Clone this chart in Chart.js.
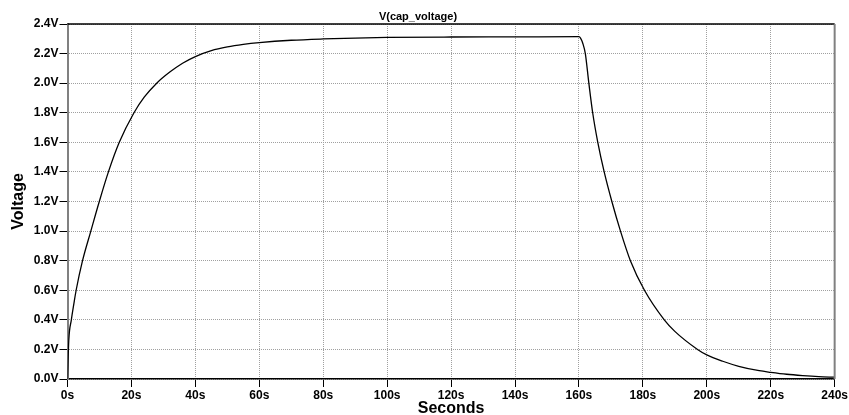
<!DOCTYPE html>
<html>
<head>
<meta charset="utf-8">
<script src="https://cdn.jsdelivr.net/npm/chart.js@4"></script>
<style>
  body { margin: 0; background: #fff; }
  canvas { display: block; }
</style>
</head>
<body>
<canvas id="capChart" width="849" height="415"></canvas>
<script>
// time in seconds
const seconds = [0, 0.4, 1.2, 2, 2.7, 4.7, 7.3, 9.95, 12.8, 16.2, 20.8, 24, 27.9, 32, 36, 40, 45, 50, 55, 60, 70, 80, 90, 100, 120, 140, 160,
    160.5, 161.2, 162, 163.1, 164.3, 165.9, 167.9, 170.3, 173, 176.1, 180.5, 186.7, 190, 197.1, 200, 205, 210, 216.4, 220, 225, 230, 235, 240];
// capacitor voltage in volts
const voltage = [0, 0.26, 0.40, 0.51, 0.60, 0.80, 1.00, 1.20, 1.40, 1.60, 1.80, 1.905, 2.00, 2.075, 2.135, 2.18, 2.22, 2.245, 2.262, 2.274, 2.29, 2.299, 2.305, 2.309, 2.312, 2.313, 2.314,
    2.305, 2.27, 2.2, 2.0, 1.8, 1.6, 1.4, 1.2, 1.0, 0.8, 0.6, 0.4, 0.322, 0.2, 0.163, 0.12, 0.086, 0.056, 0.045, 0.032, 0.023, 0.016, 0.012];

const xTickLabels = ['0s', '20s', '40s', '60s', '80s', '100s', '120s', '140s', '160s', '180s', '200s', '220s', '240s'];
const yTickLabels = ['0.0V', '0.2V', '0.4V', '0.6V', '0.8V', '1.0V', '1.2V', '1.4V', '1.6V', '1.8V', '2.0V', '2.2V', '2.4V'];

const points = seconds.map((t, i) => ({ x: t, y: voltage[i] }));
const fontFamily = '"Liberation Sans", Arial, Helvetica, sans-serif';

// draws the top and right edges of the plot frame
const framePlugin = {
    id: 'frame',
    afterDraw(chart) {
        const a = chart.chartArea;
        const ctx = chart.ctx;
        ctx.save();
        ctx.strokeStyle = '#000';
        ctx.lineWidth = 1.5;
        ctx.beginPath();
        ctx.moveTo(a.left, a.top);
        ctx.lineTo(a.right, a.top);
        ctx.stroke();
        ctx.strokeStyle = '#808080';
        ctx.lineWidth = 2;
        ctx.beginPath();
        ctx.moveTo(a.right, a.top);
        ctx.lineTo(a.right, a.bottom);
        ctx.stroke();
        ctx.restore();
    }
};

new Chart(document.getElementById('capChart'), {
    type: 'line',
    data: {
        datasets: [{
            label: 'V(cap_voltage)',
            data: points,
            borderColor: '#000',
            borderWidth: 1.3,
            pointRadius: 0,
            cubicInterpolationMode: 'monotone',
            fill: false
        }]
    },
    options: {
        responsive: false,
        animation: false,
        layout: { padding: { top: 0, right: 13, bottom: 0, left: 0 } },
        plugins: {
            legend: { display: false },
            tooltip: { enabled: false },
            title: {
                display: true,
                text: 'V(cap_voltage)',
                color: '#000',
                font: { family: fontFamily, size: 11, weight: 'bold', lineHeight: 1.2 },
                padding: { top: 10.4, bottom: 0.4 }
            }
        },
        scales: {
            x: {
                type: 'linear',
                min: 0,
                max: 240,
                afterFit(scale) { scale.height = 36; },
                ticks: {
                    stepSize: 20,
                    color: '#000',
                    padding: 1,
                    maxRotation: 0,
                    font: { family: fontFamily, size: 12, weight: 'bold' },
                    callback: (v, i) => xTickLabels[i]
                },
                grid: {
                    color: '#a0a0a0',
                    lineWidth: 1,
                    tickLength: 8,
                    tickColor: '#000',
                    tickBorderDash: []
                },
                border: { color: '#000', width: 1.5, dash: [1, 1] },
                title: {
                    display: true,
                    text: 'Seconds',
                    color: '#000',
                    font: { family: fontFamily, size: 16, weight: 'bold', lineHeight: 0.8 },
                    padding: { top: 0, bottom: 0 }
                }
            },
            y: {
                min: 0,
                max: 2.4,
                afterFit(scale) { scale.width = 67.5; },
                ticks: {
                    stepSize: 0.2,
                    color: '#000',
                    padding: 1,
                    font: { family: fontFamily, size: 12, weight: 'bold' },
                    callback: (v, i) => yTickLabels[i]
                },
                grid: {
                    color: '#a0a0a0',
                    lineWidth: 1,
                    tickLength: 8,
                    tickColor: '#000',
                    tickBorderDash: []
                },
                border: { color: '#808080', width: 2, dash: [1, 1] },
                title: {
                    display: true,
                    text: 'Voltage',
                    color: '#000',
                    font: { family: fontFamily, size: 16, weight: 'bold', lineHeight: 1.2 },
                    padding: { top: 9.4, bottom: 0 }
                }
            }
        }
    },
    plugins: [framePlugin]
});
</script>
</body>
</html>
